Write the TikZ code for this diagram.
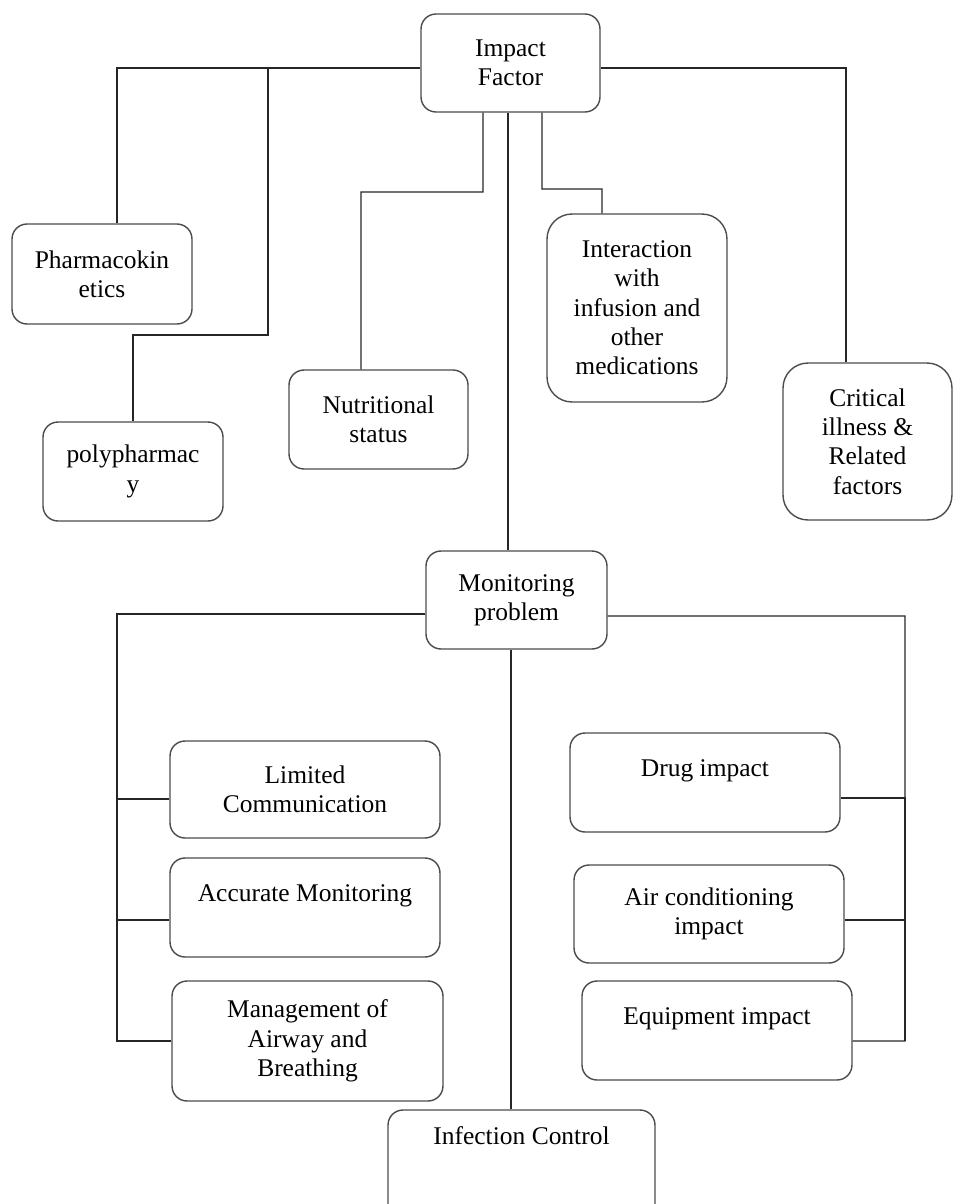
\documentclass[tikz,border=0pt]{standalone}
\usepackage{fontspec}
\setmainfont{Liberation Serif}
\usepackage{tikz}
\usetikzlibrary{positioning}

\begin{document}
\begin{tikzpicture}[
  x=0.02cm, y=-0.02cm,
  box/.style={draw=black!70, line width=0.8pt, rounded corners=0.3cm, align=center, inner sep=0pt, font=\fontsize{14.5}{16.7}\selectfont},
  bigbox/.style={box, rounded corners=0.5cm},
  conn/.style={draw=black!85, line width=0.6pt}
]
\useasboundingbox (0,0) rectangle (953,1204);

% upper level
\node[box, minimum width=3.58cm, minimum height=1.96cm] (impact) at (510.5,63) {Impact\\Factor};
\node[box, minimum width=3.6cm, minimum height=2.0cm] (pharma) at (102,274) {Pharmacokin\\etics};
\node[box, minimum width=3.6cm, minimum height=1.98cm] (poly) at (133,471.5) {polypharmac\\y};
\node[box, minimum width=3.58cm, minimum height=1.98cm] (nutri) at (378.5,419.5) {Nutritional\\status};
\node[bigbox, minimum width=3.6cm, minimum height=3.76cm] (inter) at (637,308) {Interaction\\with\\infusion and\\other\\medications};
\node[bigbox, minimum width=3.38cm, minimum height=3.14cm] (critical) at (867.5,441.5) {Critical\\illness \&\\Related\\factors};

% lower level
\node[box, minimum width=3.62cm, minimum height=1.96cm] (monitor) at (516.5,600) {Monitoring\\problem};
\node[box, minimum width=5.4cm, minimum height=1.94cm] (limited) at (305,789.5) {Limited\\Communication};
\node[box, minimum width=5.4cm, minimum height=1.98cm] (accurate) at (305,907.5) {Accurate Monitoring\\~};
\node[box, minimum width=5.42cm, minimum height=2.4cm] (manage) at (307.5,1041) {Management of\\Airway and\\Breathing};
\node[box, minimum width=5.34cm, minimum height=2.2cm] (infection) at (521.5,1165) {Infection Control\\~\\~};
\node[box, minimum width=5.4cm, minimum height=1.98cm] (drug) at (705,782.5) {Drug impact\\~};
\node[box, minimum width=5.4cm, minimum height=1.96cm] (air) at (709,914) {Air conditioning\\impact};
\node[box, minimum width=5.4cm, minimum height=1.98cm] (equip) at (717,1030.5) {Equipment impact\\~};

\coordinate (polyFork) at (268,68);
\coordinate (polyBend) at (268,335);
\coordinate (nutriBend) at (361,192);
\coordinate (interBend) at (602,189);
\coordinate (leftBus) at (117,1041);
\coordinate (rightBus) at (905,1041);

\draw[conn] ([yshift=-0.1cm]impact.west) -| ([xshift=0.3cm]pharma.north);
\draw[conn] (polyFork) -- (polyBend) -| (poly.north);
\draw[conn] ([xshift=-0.55cm]impact.south) |- (nutriBend) -- ([xshift=-0.35cm]nutri.north);
\draw[conn] ([xshift=-0.05cm]impact.south) -- ([xshift=-0.05cm]impact.south |- monitor.north);
\draw[conn] ([xshift=0.63cm]impact.south) |- (interBend) -- ([xshift=-0.7cm]inter.north);
\draw[conn] ([yshift=-0.1cm]impact.east) -| ([xshift=-0.43cm]critical.north);

\draw[conn] ([yshift=-0.28cm]monitor.west) -| (leftBus) -- (manage.west);
\draw[conn] ([yshift=-0.19cm]limited.west) -| (leftBus);
\draw[conn] ([yshift=-0.25cm]accurate.west) -| (leftBus);

\draw[conn] ([yshift=-0.32cm]monitor.east) -| (rightBus) -- ([yshift=-0.21cm]equip.east);
\draw[conn] ([yshift=-0.31cm]drug.east) -| (rightBus);
\draw[conn] ([yshift=-0.12cm]air.east) -| (rightBus);

\draw[conn] ([xshift=-0.11cm]monitor.south) -- ([xshift=-0.11cm]monitor.south |- infection.north);

\end{tikzpicture}
\end{document}
